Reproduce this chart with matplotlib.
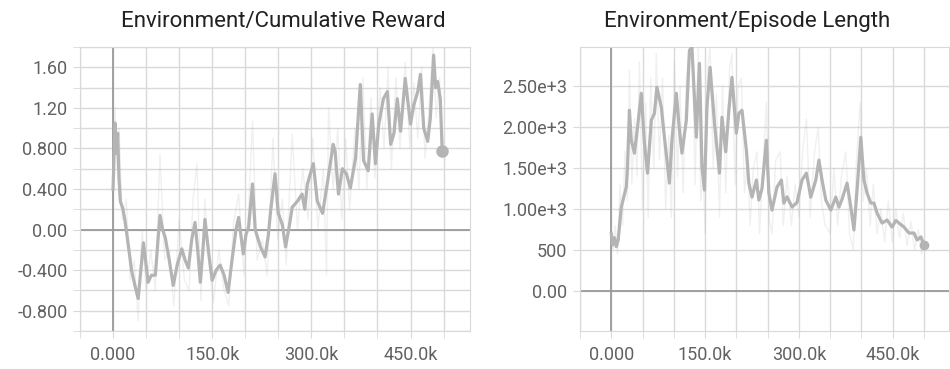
import numpy as np
import matplotlib.pyplot as plt
from matplotlib.ticker import FuncFormatter, MultipleLocator

# Environment/Cumulative Reward (steps in thousands)
reward_steps = [0, 3, 5, 7, 9, 11, 15, 18, 24, 28, 33, 38, 42, 46, 50, 53, 58, 64, 68, 71,
                75, 79, 85, 91, 97, 104, 109, 114, 119, 124, 128, 132, 136, 139, 145, 150, 156, 162, 168, 174,
                180, 186, 190, 197, 201, 205, 211, 215, 223, 230, 235, 238, 245, 250, 256, 261, 267, 271, 279, 286,
                290, 294, 303, 309, 317, 324, 333, 336, 341, 347, 353, 359, 367, 374, 379, 386, 392, 397, 402, 409,
                415, 420, 425, 430, 435, 442, 450, 455, 461, 465, 470, 476, 480, 485, 488, 491, 495, 498]
reward_smooth = [0.40, 1.05, 0.75, 0.95, 0.50, 0.28, 0.20, 0.09, -0.20, -0.40, -0.55, -0.68, -0.40, -0.13, -0.35, -0.52, -0.45, -0.45, -0.10, 0.14,
                 0.00, -0.08, -0.30, -0.55, -0.35, -0.19, -0.30, -0.38, -0.10, 0.07, -0.20, -0.52, -0.20, 0.10, -0.25, -0.50, -0.40, -0.35, -0.45, -0.62,
                 -0.30, 0.00, 0.12, -0.24, -0.05, 0.02, 0.45, 0.00, -0.17, -0.27, -0.05, 0.16, 0.55, 0.16, 0.05, -0.17, 0.05, 0.22, 0.28, 0.35,
                 0.20, 0.45, 0.65, 0.28, 0.16, 0.45, 0.84, 0.77, 0.35, 0.60, 0.55, 0.41, 0.71, 1.43, 0.68, 0.58, 1.14, 0.65, 1.04, 1.29,
                 1.36, 0.84, 0.95, 1.29, 0.97, 1.49, 1.04, 1.23, 1.36, 1.53, 1.00, 0.87, 1.10, 1.72, 1.40, 1.46, 1.29, 0.77]

reward_raw_steps = [0, 3, 6, 9, 14, 20, 26, 32, 38, 44, 50, 57, 64, 71, 78, 85, 92, 100, 108, 115,
                    121, 127, 133, 139, 146, 152, 160, 168, 175, 182, 190, 198, 205, 211, 218, 226, 233, 242, 249, 256,
                    262, 271, 279, 287, 295, 302, 310, 318, 323, 326, 333, 340, 346, 352, 358, 366, 372, 378, 384, 390,
                    396, 404, 410, 416, 421, 428, 434, 442, 449, 455, 461, 467, 472, 478, 484, 489, 494, 498]
reward_raw = [0.4, 1.2, 0.6, 1.0, 0.1, 0.3, -0.5, -0.3, -0.9, 0.0, -0.6, -0.2, -0.6, 0.74, -0.3, -0.2, -0.75, 0.1, -0.5, -0.6,
              0.3, 0.65, -0.7, 0.3, -0.4, -0.72, -0.2, -0.6, -0.75, 0.05, 0.35, -0.45, 0.2, 1.07, -0.3, -0.1, -0.45, 0.9, -0.1, 0.3,
              -0.35, 0.94, 0.0, 0.6, 0.1, 0.9, 0.0, 0.6, -0.45, 1.2, 0.4, 1.0, 0.1, 0.9, 0.2, 1.0, 0.4, 1.5, 0.4, 1.3,
              0.5, 1.4, 0.8, 1.6, 0.6, 1.5, 0.8, 1.65, 0.8, 1.45, 0.9, 1.6, 0.7, 1.2, 1.8, 1.1, 1.5, 0.77]

# Environment/Episode Length
length_steps = [0, 2, 5, 8, 11, 16, 24, 26, 29, 32, 37, 42, 48, 53, 58, 64, 69, 73, 80, 85,
                93, 97, 104, 109, 113, 120, 125, 129, 136, 141, 145, 149, 153, 158, 165, 173, 177, 183, 188, 193,
                200, 204, 209, 216, 220, 225, 232, 236, 241, 248, 252, 257, 265, 272, 276, 281, 289, 297, 305, 312,
                319, 327, 332, 337, 343, 351, 359, 364, 369, 377, 383, 388, 393, 399, 404, 409, 415, 420, 425, 433,
                441, 449, 455, 460, 468, 476, 484, 489, 495, 500]
length_smooth = [700, 560, 650, 540, 620, 1024, 1268, 1512, 2207, 1841, 1683, 2000, 2414, 1805, 1439, 2085, 2170, 2488, 2244, 1878,
                 1317, 1841, 2414, 1963, 1683, 2085, 2939, 2976, 1878, 2780, 1512, 1232, 2244, 2732, 2049, 1439, 2122, 1700, 2207, 2610,
                 1927, 2170, 2207, 1720, 1317, 1146, 1354, 1110, 1250, 1841, 1195, 988, 1268, 1354, 1073, 1150, 1024, 1080, 1354, 1439,
                 1146, 1354, 1598, 1354, 1110, 988, 1146, 1024, 1120, 1317, 1024, 744, 1232, 1878, 1354, 1195, 1073, 1073, 951, 829,
                 866, 780, 860, 829, 780, 707, 707, 622, 660, 560]

length_raw_steps = [0, 3, 6, 10, 14, 18, 22, 26, 29, 33, 37, 41, 45, 50, 55, 59, 63, 68, 72, 77,
                    82, 87, 92, 96, 101, 106, 110, 115, 120, 125, 130, 134, 139, 143, 147, 150, 154, 158, 163, 168,
                    173, 178, 183, 189, 193, 198, 203, 208, 213, 218, 222, 227, 233, 237, 243, 248, 252, 257, 263, 270,
                    275, 281, 288, 294, 300, 306, 312, 318, 325, 331, 336, 342, 350, 356, 362, 368, 375, 381, 387, 392,
                    398, 403, 408, 414, 419, 425, 431, 437, 443, 449, 455, 461, 467, 473, 479, 485, 491, 496, 500]
length_raw = [700, 500, 800, 450, 1300, 800, 1700, 1100, 2700, 1300, 2100, 1400, 2800, 1000, 2300, 900, 2600, 1500, 2900, 1600,
              2600, 1000, 1900, 900, 2800, 1400, 2500, 1200, 2600, 2980, 2900, 1300, 2980, 1100, 1500, 700, 2700, 2980, 1500, 2400,
              900, 2500, 1200, 2700, 2900, 1300, 2500, 2600, 1200, 1600, 800, 1500, 1700, 700, 1600, 2300, 900, 700, 1600, 1700,
              800, 1400, 800, 1300, 900, 1700, 2100, 900, 1700, 2000, 1100, 800, 700, 1500, 800, 1400, 1700, 700, 500, 1600,
              2300, 1100, 1500, 800, 1300, 700, 1000, 600, 1100, 600, 1000, 650, 950, 550, 850, 500, 750, 450, 560]

x_ticks = [0, 150000, 300000, 450000]
x_ticklabels = ['0.000', '150.0k', '300.0k', '450.0k']

plt.rcParams['font.family'] = ['Roboto', 'DejaVu Sans']

line_col = '#b4b4b4'
grid_col = '#d9d9d9'
text_col = '#616161'

fig = plt.figure(figsize=(9.5, 3.69), dpi=100)
W, H = 950, 369
ax1 = fig.add_axes([80 / W, 38 / H, 390 / W, 284 / H])
ax2 = fig.add_axes([580 / W, 38 / H, 369 / W, 284 / H])


def style(ax, ymin, ymax, ystep, ylabels_step, fmt):
    ax.set_xlim(-50000, 540000)
    ax.set_ylim(ymin, ymax)
    ax.xaxis.set_major_locator(MultipleLocator(150000))
    ax.xaxis.set_minor_locator(MultipleLocator(50000))
    ax.xaxis.set_major_formatter(FuncFormatter(lambda v, p: x_ticklabels[x_ticks.index(round(v))] if round(v) in x_ticks else ''))
    ax.yaxis.set_major_locator(MultipleLocator(ylabels_step))
    ax.yaxis.set_minor_locator(MultipleLocator(ystep))
    ax.yaxis.set_major_formatter(FuncFormatter(fmt))
    ax.grid(True, which='both', color=grid_col, linewidth=1.0, zorder=0)
    ax.axhline(0, color='#9a9a9a', linewidth=1.3, zorder=1)
    ax.axvline(0, color='#9a9a9a', linewidth=1.3, zorder=1)
    for s in ax.spines.values():
        s.set_color(grid_col)
    ax.tick_params(which='both', length=5, color=grid_col, labelcolor=text_col, labelsize=13, pad=4)
    ax.tick_params(axis='x', which='major', pad=6)
    ax.set_axisbelow(True)


def fmt_reward(v, p):
    if abs(v) < 1e-9:
        return '0.00'
    if abs(v) >= 1:
        return '%.2f' % v
    return '%.3f' % v


def fmt_length(v, p):
    if abs(v) < 1e-9:
        return '0.00'
    if abs(v) >= 1000:
        return '%.2fe+3' % (v / 1000)
    return '%d' % v


# reward panel
ax1.plot(np.array(reward_raw_steps) * 1000, reward_raw, color=line_col, alpha=0.2, linewidth=1, zorder=2)
ax1.plot(np.array(reward_steps) * 1000, reward_smooth, color=line_col, linewidth=2.3, zorder=3)
ax1.plot(reward_steps[-1] * 1000, reward_smooth[-1], 'o', color=line_col, markersize=8, zorder=4)
style(ax1, -1.0, 1.8, 0.2, 0.4, fmt_reward)

# episode length panel
ax2.plot(np.array(length_raw_steps) * 1000, length_raw, color=line_col, alpha=0.2, linewidth=1, zorder=2)
ax2.plot(np.array(length_steps) * 1000, length_smooth, color=line_col, linewidth=2.3, zorder=3)
ax2.plot(length_steps[-1] * 1000, length_smooth[-1], 'o', color=line_col, markersize=6, zorder=4)
style(ax2, -490, 2980, 500, 500, fmt_length)
ax2.yaxis.set_minor_locator(MultipleLocator(500))

fig.text(283 / W, 1 - 22 / H, 'Environment/Cumulative Reward', ha='center', va='center', fontsize=16, color='#212121')
fig.text(747 / W, 1 - 22 / H, 'Environment/Episode Length', ha='center', va='center', fontsize=16, color='#212121')

fig.savefig('out.png', dpi=100, facecolor='white')
